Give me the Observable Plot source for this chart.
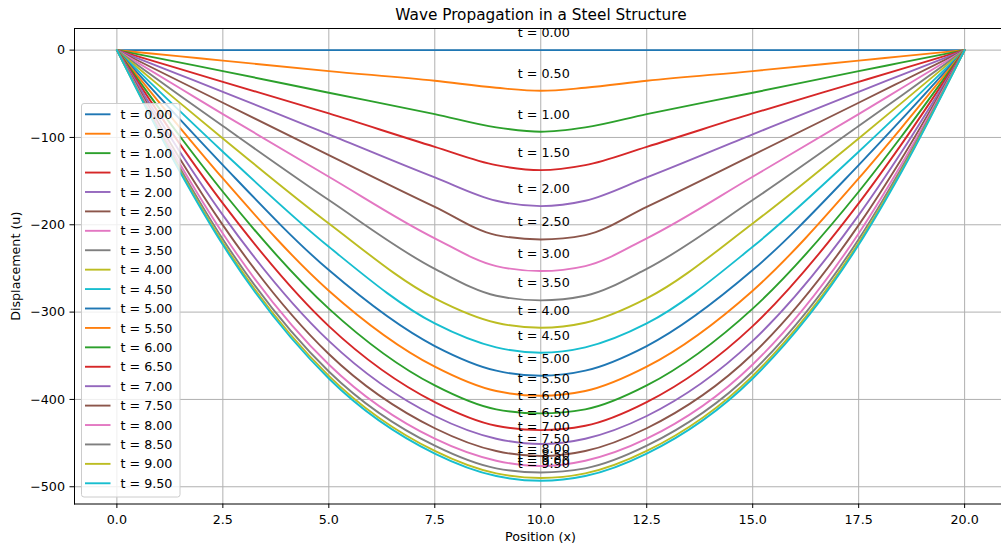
<!DOCTYPE html>
<html>
<head>
<meta charset="utf-8">
<script src="https://cdn.jsdelivr.net/npm/d3@7"></script>
<script src="https://cdn.jsdelivr.net/npm/@observablehq/plot@0.6"></script>
<style>
  html, body { margin: 0; padding: 0; background: #fff; overflow: hidden; }
  #wrap { position: relative; width: 1001px; height: 550px; font-family: "DejaVu Sans", sans-serif; color: #000; }
  #wrap svg.overlay { position: absolute; left: 0; top: 0; pointer-events: none; }
</style>
</head>
<body>
<div id="wrap"></div>
<script>
// ---- data ----
const times = [0, 0.5, 1, 1.5, 2, 2.5, 3, 3.5, 4, 4.5, 5, 5.5, 6, 6.5, 7, 7.5, 8, 8.5, 9, 9.5];
const positions = [0, 1.5, 2.5, 5, 7.5, 8.95, 10, 11.05, 12.5, 15, 17.5, 18.5, 20];
const displacement = [
  [0, 0, 0, 0, 0, 0, 0, 0, 0, 0, 0, 0, 0],
  [0, -7.2, -12.0, -24.0, -35.1, -43.1, -46.6, -43.1, -35.1, -24.0, -12.0, -7.2, 0],
  [0, -14.4, -24.0, -48.8, -73.3, -88.5, -93.5, -88.5, -73.3, -48.8, -24.0, -14.4, 0],
  [0, -21.8, -36.3, -72.5, -110.7, -131.7, -137.4, -131.7, -110.7, -72.5, -36.3, -21.8, 0],
  [0, -28.6, -47.7, -96.5, -145.8, -172.5, -178.6, -172.5, -145.8, -96.5, -47.7, -28.6, 0],
  [0, -36.2, -60.3, -120.2, -179.4, -211.8, -216.8, -211.8, -179.4, -120.2, -60.3, -36.2, 0],
  [0, -44.0, -73.3, -145.0, -215.5, -247.3, -253.0, -247.3, -215.5, -145.0, -73.3, -44.0, 0],
  [0, -52.5, -87.0, -171.7, -250.5, -281.3, -286.6, -281.3, -250.5, -171.7, -87.0, -52.5, 0],
  [0, -61.0, -101.1, -198.5, -284.3, -312.2, -317.9, -312.2, -284.3, -198.5, -101.1, -61.0, 0],
  [0, -70.5, -116.4, -225.2, -313.0, -340.4, -346.5, -340.4, -313.0, -225.2, -116.4, -70.5, 0],
  [0, -80.0, -131.7, -251.9, -338.9, -367.1, -372.9, -367.1, -338.9, -251.9, -131.7, -80.0, 0],
  [0, -89.5, -146.9, -275.5, -362.5, -390.4, -395.8, -390.4, -362.5, -275.5, -146.9, -89.5, 0],
  [0, -99.5, -162.2, -296.0, -384.0, -411.4, -416.0, -411.4, -384.0, -296.0, -162.2, -99.5, 0],
  [0, -108.5, -175.5, -316.0, -403.0, -430.1, -435.1, -430.1, -403.0, -316.0, -175.5, -108.5, 0],
  [0, -117.5, -188.9, -333.0, -419.0, -445.0, -451.1, -445.0, -419.0, -333.0, -188.9, -117.5, 0],
  [0, -125.5, -200.4, -348.0, -433.0, -459.1, -464.8, -459.1, -433.0, -348.0, -200.4, -125.5, 0],
  [0, -131.5, -209.9, -360.0, -445.0, -470.2, -476.3, -470.2, -445.0, -360.0, -209.9, -131.5, 0],
  [0, -136.0, -216.5, -368.0, -453.0, -478.9, -483.6, -478.9, -453.0, -368.0, -216.5, -136.0, 0],
  [0, -139.0, -220.5, -373.0, -459.0, -484.7, -490.0, -484.7, -459.0, -373.0, -220.5, -139.0, 0],
  [0, -140.5, -223.0, -376.0, -462.0, -487.7, -493.1, -487.7, -462.0, -376.0, -223.0, -140.5, 0]
];
const palette = ["#1f77b4", "#ff7f0e", "#2ca02c", "#d62728", "#9467bd", "#8c564b", "#e377c2", "#7f7f7f", "#bcbd22", "#17becf"];
const xTicks = [0, 2.5, 5, 7.5, 10, 12.5, 15, 17.5, 20];
const yTicks = [0, -100, -200, -300, -400, -500];
const titleText = "Wave Propagation in a Steel Structure";
const xLabel = "Position (x)";
const yLabel = "Displacement (u)";
const midX = 10;

// ---- build tables ----
const labelOf = t => `t = ${t.toFixed(2)}`;
const colorOf = i => palette[i % palette.length];
const rows = [];
times.forEach((t, i) => {
  positions.forEach((x, j) => rows.push({series: labelOf(t), color: colorOf(i), x, u: displacement[i][j]}));
});
const minima = times.map((t, i) => ({label: labelOf(t), x: midX, u: displacement[i][positions.indexOf(midX)] + 15}));

const FS = 12.7;
const minusFmt = d => (d < 0 ? "\u2212" + Math.abs(d) : String(d));

const chart = Plot.plot({
  width: 1001,
  height: 550,
  marginLeft: 74,
  marginRight: 0,
  marginTop: 28,
  marginBottom: 46.5,
  style: {fontFamily: "DejaVu Sans", fontSize: FS + "px", color: "#000", background: "#fff", overflow: "hidden"},
  x: {domain: [-1, 20.87], axis: null},
  y: {domain: [-519.75, 24.75], axis: null},
  marks: [
    Plot.gridX(xTicks, {stroke: "#b0b0b0", strokeOpacity: 1, strokeWidth: 1}),
    Plot.gridY(yTicks, {stroke: "#b0b0b0", strokeOpacity: 1, strokeWidth: 1}),
    Plot.line(rows, {x: "x", y: "u", z: "series", stroke: "color", strokeWidth: 1.9, curve: "monotone-x"}),
    Plot.text(minima, {x: "x", y: "u", text: "label", fill: "#000", fontSize: FS, textAnchor: "middle", lineAnchor: "bottom", dx: 3}),
    Plot.frame({anchor: "left", stroke: "#000", strokeWidth: 1}),
    Plot.frame({anchor: "bottom", stroke: "#000", strokeWidth: 1}),
    Plot.frame({anchor: "top", stroke: "#000", strokeWidth: 1}),
    Plot.axisX(xTicks, {tickFormat: d => d.toFixed(1), tickSize: 4.5, tickPadding: 6, label: null, fontSize: FS, stroke: "#000", fill: "#000"}),
    Plot.axisY(yTicks, {tickFormat: minusFmt, tickSize: 4.5, tickPadding: 5, label: null, fontSize: FS, stroke: "#000", fill: "#000"}),
    Plot.text([titleText], {frameAnchor: "top", lineAnchor: "bottom", dy: -8.5, dx: 3, fontSize: 15.3, fill: "#000"}),
    Plot.text([xLabel], {frameAnchor: "bottom", lineAnchor: "bottom", dy: 37, dx: 2.5, fontSize: FS, fill: "#000"}),
    Plot.text([yLabel], {frameAnchor: "left", rotate: -90, lineAnchor: "bottom", textAnchor: "middle", dx: -54.5, fontSize: FS, fill: "#000"})
  ]
});

const wrap = document.getElementById("wrap");
wrap.appendChild(chart);

// ---- legend overlay ----
const leg = d3.select(wrap).append("svg").attr("class", "overlay").attr("width", 1001).attr("height", 550);
const boxL = 81, boxT = 103, boxW = 98.5, boxH = 393.5;
leg.append("rect").attr("x", boxL + 0.5).attr("y", boxT + 0.5).attr("width", boxW).attr("height", boxH)
  .attr("rx", 2.5).attr("fill", "#fff").attr("fill-opacity", 0.8).attr("stroke", "#cccccc").attr("stroke-width", 1);
times.forEach((t, i) => {
  const cy = 114.3 + i * 19.42;
  leg.append("line").attr("x1", 85).attr("x2", 110.5).attr("y1", cy).attr("y2", cy)
    .attr("stroke", colorOf(i)).attr("stroke-width", 1.9);
  leg.append("text").attr("x", 120.5).attr("y", cy + 4.6).attr("font-size", FS).attr("font-family", "DejaVu Sans")
    .attr("fill", "#000").text(labelOf(t));
});
</script>
</body>
</html>
